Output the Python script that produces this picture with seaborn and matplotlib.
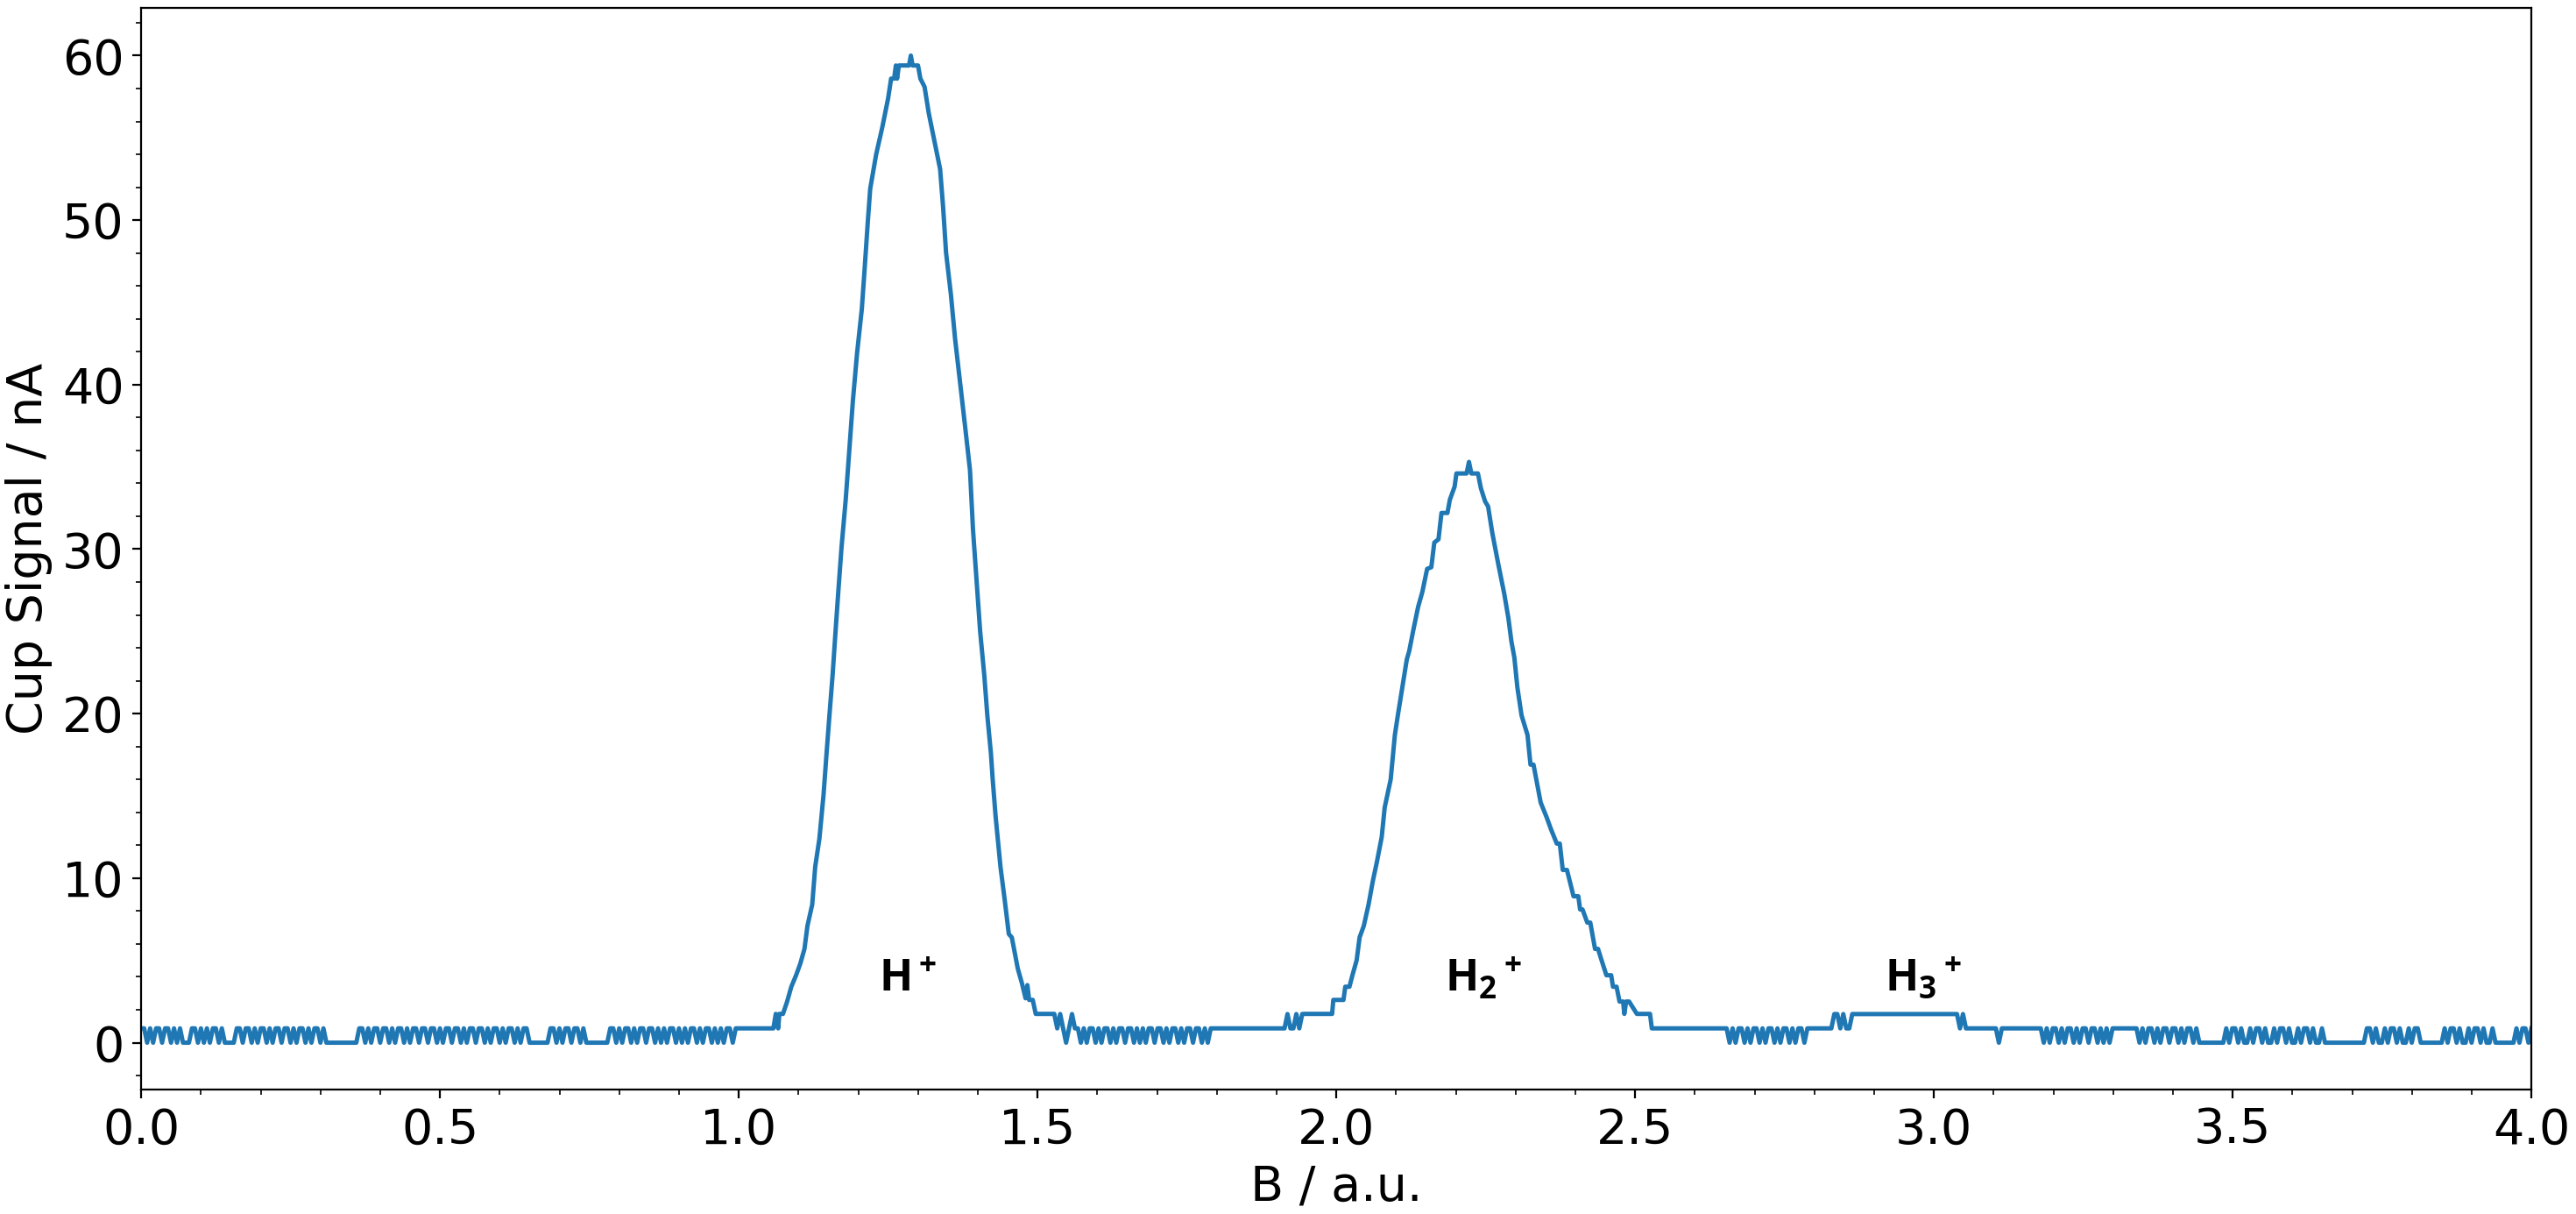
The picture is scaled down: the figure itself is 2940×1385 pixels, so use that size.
import seaborn as sns
import matplotlib.pyplot as plt
import numpy as np
import pandas as pd

count = 0.87  # nA per digitiser count

# baseline stretches, one digit = one sample (in counts)
base_a = ("11010110110101" "000" "11010101101" "0000"
          "1101101011" "0101101101" "0110101101" "0"
          "0000000000"
          "1101011011" "0101101011" "0110110101" "1011010110" "1101011010" "11010110"
          "000000" "110101101101" "00000000"
          "1101011010" "1101101010" "1101010110" "1011010101" "101"
          "111111111111")
base_b = ("1210121"
          "1010110101" "1010110110" "1010110110" "1011010110" "1101011"
          "11111111111111111111111"
          "1211212")
base_c = ("111111111111111111111111"
          "1010110101" "1010110101" "1010110"
          "111111111" "2212112"
          "22222222222222222222222222222222222"
          "12" "11111111111" "0" "1111111111111"
          "1010110101" "1010110110" "101011"
          "111111"
          "1010110101" "1011010110" "10"
          "0000000"
          "0101101001" "0110100101" "1010010110" "10010"
          "000000000000"
          "0110100101" "1010010110"
          "000000"
          "0101101001" "01101001"
          "000000"
          "0101101")

# H+ peak
h1_b = [1.058, 1.062, 1.066, 1.068, 1.074, 1.081, 1.088, 1.096, 1.103, 1.110,
        1.115, 1.123, 1.128, 1.135, 1.142, 1.147, 1.152, 1.157, 1.162, 1.167,
        1.172, 1.179, 1.186, 1.191, 1.198, 1.206, 1.211, 1.216, 1.220, 1.230,
        1.240, 1.250, 1.255, 1.260, 1.263, 1.265, 1.268, 1.272, 1.280, 1.285,
        1.288, 1.291, 1.300, 1.304, 1.311, 1.318, 1.328, 1.337, 1.342, 1.347,
        1.355, 1.362, 1.374, 1.379, 1.387, 1.392, 1.399, 1.404, 1.411, 1.416,
        1.422, 1.425, 1.430, 1.438, 1.445, 1.452, 1.457, 1.467, 1.474, 1.480,
        1.483, 1.486, 1.492, 1.497, 1.528]
h1_v = [0.87, 1.75, 0.87, 1.75, 1.75, 2.5, 3.4, 4.1, 4.8, 5.7,
        7.1, 8.4, 10.7, 12.4, 15.1, 17.6, 20.0, 22.3, 25.0, 27.6,
        30.1, 33.0, 36.5, 39.0, 41.9, 44.6, 47.2, 49.9, 51.9, 54.0,
        55.6, 57.4, 58.6, 58.6, 59.4, 58.6, 59.4, 59.4, 59.4, 59.4,
        60.0, 59.4, 59.4, 58.6, 58.1, 56.5, 54.7, 53.1, 50.8, 48.0,
        45.5, 42.8, 39.0, 37.4, 34.8, 31.2, 27.6, 25.0, 22.3, 19.9,
        17.6, 16.0, 13.7, 10.7, 8.7, 6.6, 6.4, 4.5, 3.6, 2.7,
        3.5, 2.6, 2.6, 1.75, 1.75]

# H2+ peak
h2_b = [1.946, 1.993, 1.995, 2.012, 2.015, 2.022, 2.027, 2.034, 2.039, 2.046,
        2.054, 2.061, 2.068, 2.076, 2.081, 2.091, 2.098, 2.103, 2.110, 2.118,
        2.122, 2.129, 2.137, 2.144, 2.152, 2.159, 2.164, 2.171, 2.176, 2.186,
        2.190, 2.198, 2.201, 2.218, 2.222, 2.226, 2.237, 2.242, 2.249, 2.254,
        2.261, 2.271, 2.281, 2.288, 2.293, 2.298, 2.303, 2.310, 2.320, 2.325,
        2.330, 2.342, 2.352, 2.359, 2.369, 2.374, 2.379, 2.386, 2.397, 2.405,
        2.408, 2.412, 2.420, 2.425, 2.433, 2.438, 2.444, 2.452, 2.460, 2.463,
        2.469, 2.474, 2.480, 2.482, 2.485, 2.490, 2.503, 2.525, 2.528]
h2_v = [1.75, 1.75, 2.6, 2.6, 3.4, 3.4, 4.1, 5.0, 6.4, 7.1,
        8.4, 9.8, 11.0, 12.5, 14.3, 16.0, 18.7, 19.9, 21.5, 23.3,
        23.8, 25.1, 26.5, 27.4, 28.8, 28.9, 30.4, 30.6, 32.2, 32.2,
        33.0, 33.8, 34.6, 34.6, 35.3, 34.6, 34.6, 33.7, 32.9, 32.6,
        31.0, 29.1, 27.3, 25.8, 24.4, 23.4, 21.6, 19.9, 18.7, 16.9,
        16.9, 14.6, 13.7, 13.0, 12.1, 12.1, 10.5, 10.5, 8.9, 8.9,
        8.1, 8.1, 7.3, 7.3, 5.7, 5.7, 5.0, 4.1, 4.1, 3.4,
        3.4, 2.5, 2.5, 1.75, 2.5, 2.5, 1.75, 1.75, 0.87]

labels = [r"$\mathbf{H^+}$", r"$\mathbf{H_2{}^+}$", r"$\mathbf{H_3{}^+}$"]
label_b = [1.235, 2.182, 2.918]
label_y = [3.1, 3.1, 3.1]


def stretch(b0, b1, s):
    return np.linspace(b0, b1, len(s)), np.array([int(c) for c in s]) * count


xa, ya = stretch(0.0, 1.055, base_a)
xb, yb = stretch(1.533, 1.943, base_b)
xc, yc = stretch(2.533, 4.0, base_c)
df = pd.DataFrame({
    "B": np.concatenate([xa, h1_b, xb, h2_b, xc]),
    "signal": np.concatenate([ya, h1_v, yb, h2_v, yc]),
})

plt.rcParams["mathtext.fontset"] = "custom"
plt.rcParams["mathtext.rm"] = "Open Sans"
plt.rcParams["mathtext.bf"] = "Open Sans:bold"

fig, ax = plt.subplots(figsize=(14.7, 6.925), dpi=200)
fig.subplots_adjust(left=0.0548, right=0.9827, bottom=0.1025, top=0.9935)
sns.lineplot(data=df, x="B", y="signal", estimator=None, color="#1f77b4", lw=1.8, ax=ax)

for t, b, y in zip(labels, label_b, label_y):
    ax.text(b, y, t, fontsize=18)

ax.set_xlim(0, 4)
ax.set_ylim(-2.85, 62.9)
ax.minorticks_on()
ax.tick_params(labelsize=20)
ax.set_xlabel("B / a.u.", fontsize=20)
ax.set_ylabel("Cup Signal / nA", fontsize=20)
plt.savefig("out.png")
